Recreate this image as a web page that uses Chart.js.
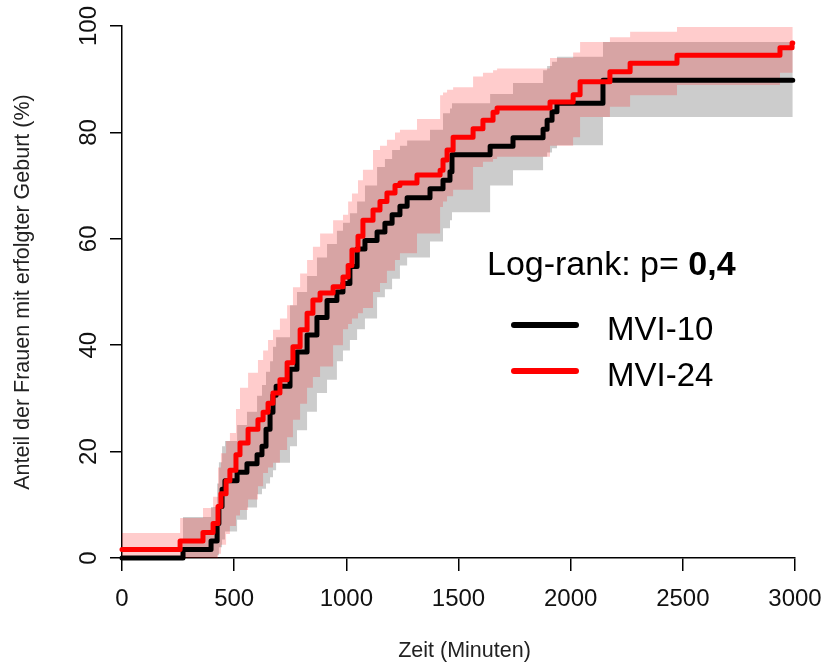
<!DOCTYPE html>
<html>
<head>
<meta charset="utf-8">
<script src="https://cdn.jsdelivr.net/npm/chart.js@4.4.1/dist/chart.umd.min.js"></script>
<style>
  html, body { margin: 0; padding: 0; background: #fff; }
  canvas { display: block; }
</style>
</head>
<body>
<canvas id="km-chart" width="822" height="664"></canvas>
<script>
// Achsen
const xTicks = [0, 500, 1000, 1500, 2000, 2500, 3000];
const yTicks = [0, 20, 40, 60, 80, 100];
const groups = ['MVI-10', 'MVI-24'];
const logrankP = '0,4';

// MVI-10 (schwarz): Zeit, Schaetzer, untere / obere Grenze (%)
const time10 = [0, 272, 397, 424, 432, 446, 459, 513, 557, 602, 624, 642, 660, 673, 687, 749, 780, 825, 869, 914, 958, 985, 1016, 1048, 1083, 1137, 1172, 1204, 1239, 1271, 1373, 1431, 1462, 1471, 1641, 1743, 1877, 1895, 1917, 1939, 2144, 2990];
const est10 = [0, 1.6, 3.2, 6.5, 9.7, 12.9, 14.5, 16.1, 17.7, 19.4, 21, 24.2, 27.4, 30.6, 32.3, 35.5, 38.7, 41.9, 45.2, 48.4, 50, 51.6, 54.8, 58.1, 59.7, 61.3, 62.9, 64.5, 66.1, 67.7, 69.4, 71, 72.6, 75.8, 77.4, 79, 80.6, 82.3, 83.9, 85.5, 89.8, 89.8];
const lower10 = [0, 0, 0, 0.5, 2, 3.5, 5, 7.2, 9.5, 12, 13, 14, 15.2, 16.5, 17.9, 21, 24, 27.5, 31, 33.5, 37, 39, 41, 43, 45, 49, 50.5, 52.5, 55, 56.5, 59.5, 62, 63.5, 65, 70, 72.9, 75.4, 76.2, 77, 77.6, 82.9, 82.9];
const upper10 = [0, 7.7, 9.6, 14, 18, 21, 22, 25, 27.5, 30.5, 32.5, 35, 37, 39.7, 41.5, 47.5, 50, 53, 56.5, 59, 61.5, 63, 64.8, 67, 70, 73.5, 75, 76.7, 77.5, 78.5, 80.5, 83.6, 84.5, 85.5, 87.2, 89.3, 91.7, 92.5, 93.3, 94.2, 97, 97];

// MVI-24 (rot)
const time24 = [0, 259, 361, 406, 428, 441, 464, 481, 508, 526, 562, 606, 629, 651, 673, 704, 736, 762, 794, 825, 851, 883, 941, 985, 1008, 1025, 1052, 1074, 1119, 1150, 1181, 1217, 1239, 1315, 1418, 1431, 1449, 1476, 1565, 1609, 1654, 1672, 1908, 2011, 2042, 2175, 2265, 2474, 2933, 2987, 2990];
const est24 = [1.6, 3.2, 4.8, 6.5, 9.7, 12.1, 14.5, 16.5, 19.4, 21.6, 24.2, 26, 27.4, 29.1, 31, 33.5, 36.7, 39.7, 42.9, 46, 48.5, 49.8, 51, 52.8, 55, 57.9, 60.5, 63.5, 65.4, 67, 68.6, 70, 70.5, 72, 72.9, 74.8, 76.7, 79.1, 80.7, 82.3, 83.8, 84.6, 85.7, 87.1, 89.5, 91.4, 93, 94.5, 95.9, 96.8, 96.8];
const lower24 = [0, 0, 0, 0, 0.8, 2.5, 4.5, 6, 8, 9, 11, 13.5, 16, 17, 17.9, 20.3, 22.7, 26, 29, 32, 34, 36, 40, 43, 44, 45, 46, 47, 50, 51.7, 54, 56, 57.3, 61, 66, 67, 68, 69.2, 73.5, 74.5, 75, 75.4, 77.5, 79.1, 82.9, 84.8, 87, 88.9, 91.2, 91.2, 91.2];
const upper24 = [4.7, 7.5, 9.4, 11.5, 17, 19.7, 22, 23.5, 28, 32, 34.8, 37.2, 39, 41, 42.9, 45, 47.5, 50.9, 53.5, 56, 58.5, 61, 63.5, 64.5, 67, 68.5, 71, 73, 76.7, 77.5, 78.6, 80, 80.5, 82.5, 87, 87.5, 88, 88.5, 90.5, 91.2, 91.7, 92, 94, 95, 97, 97.9, 98.9, 99.8, 99.8, 99.8, 99.8];

const lineColors = ['#000000', '#ff0000'];
const bandColors = ['rgba(0,0,0,0.2)', 'rgba(255,0,0,0.2)'];
const FONT = '"Liberation Sans", Arial, sans-serif';

function pts(times, vals) {
    return times.map((t, i) => ({ x: t, y: vals[i] }));
}

function lineSet(label, times, vals, color) {
    return {
        label: label,
        data: pts(times, vals),
        stepped: true,
        borderColor: color,
        borderWidth: 5,
        borderCapStyle: 'round',
        borderJoinStyle: 'round',
        pointRadius: 0,
        fill: false,
        clip: false
    };
}

function bandSet(times, vals, color, fill) {
    return {
        data: pts(times, vals),
        stepped: true,
        borderColor: 'rgba(0,0,0,0)',
        borderWidth: 0,
        pointRadius: 0,
        backgroundColor: color,
        fill: fill
    };
}

// R-artige Beschriftung: gedrehte y-Ticks, Achsentitel, Legende
const rText = {
    id: 'rText',
    afterDraw(chart) {
        const ctx = chart.ctx;
        const xs = chart.scales.x, ys = chart.scales.y;
        ctx.save();
        ctx.fillStyle = '#111';
        ctx.textAlign = 'center';
        ctx.textBaseline = 'alphabetic';

        ctx.font = '24px ' + FONT;
        yTicks.forEach(v => {
            ctx.save();
            ctx.translate(96, ys.getPixelForValue(v));
            ctx.rotate(-Math.PI / 2);
            ctx.fillText(String(v), 0, 0);
            ctx.restore();
        });

        ctx.font = '21.5px ' + FONT;
        ctx.fillStyle = '#222';
        ctx.save();
        ctx.translate(29, (ys.top + ys.bottom) / 2);
        ctx.rotate(-Math.PI / 2);
        ctx.fillText('Anteil der Frauen mit erfolgter Geburt (%)', 0, 0);
        ctx.restore();
        ctx.fillText('Zeit (Minuten)', (xs.left + xs.right) / 2 + 6, 657);

        // Legende
        ctx.fillStyle = '#000';
        ctx.textAlign = 'left';
        ctx.font = '34px ' + FONT;
        const head = 'Log-rank: p= ';
        ctx.fillText(head, 487, 275);
        const w = ctx.measureText(head).width;
        ctx.font = 'bold 34px ' + FONT;
        ctx.fillText(logrankP, 487 + w, 275);

        ctx.font = '33px ' + FONT;
        groups.forEach((g, i) => {
            const ly = 325 + i * 46;
            ctx.strokeStyle = lineColors[i];
            ctx.lineWidth = 6;
            ctx.lineCap = 'round';
            ctx.beginPath();
            ctx.moveTo(514, ly);
            ctx.lineTo(576, ly);
            ctx.stroke();
            ctx.fillText(g, 607, ly + 15);
        });
        ctx.restore();
    }
};

new Chart(document.getElementById('km-chart').getContext('2d'), {
    type: 'line',
    data: {
        datasets: [
            lineSet(groups[1], time24, est24, lineColors[1]),
            lineSet(groups[0], time10, est10, lineColors[0]),
            bandSet(time24, upper24, bandColors[1], '+1'),
            bandSet(time24, lower24, bandColors[1], false),
            bandSet(time10, upper10, bandColors[0], '+1'),
            bandSet(time10, lower10, bandColors[0], false)
        ]
    },
    options: {
        responsive: false,
        animation: false,
        devicePixelRatio: 1,
        layout: { padding: { top: 26, right: 27, left: 0, bottom: 0 } },
        plugins: {
            legend: { display: false },
            tooltip: { enabled: false }
        },
        scales: {
            x: {
                type: 'linear',
                min: 0,
                max: 3000,
                afterBuildTicks: (scale) => { scale.ticks = xTicks.map(v => ({ value: v })); },
                afterFit: (scale) => {
                    scale.height = 106;
                    scale.paddingLeft = 0;
                    scale.paddingRight = 0;
                },
                ticks: {
                    autoSkip: false,
                    maxRotation: 0,
                    color: '#111',
                    padding: 14,
                    font: { family: FONT, size: 24 },
                    callback: (v) => String(v)
                },
                grid: { drawOnChartArea: false, tickLength: 13, color: '#000', lineWidth: 1.5 },
                border: { display: true, color: '#000', width: 1.5 }
            },
            y: {
                type: 'linear',
                min: 0,
                max: 100,
                afterBuildTicks: (scale) => { scale.ticks = yTicks.map(v => ({ value: v })); },
                afterFit: (scale) => { scale.width = 122; },
                ticks: { display: false },
                grid: { drawOnChartArea: false, tickLength: 12, color: '#000', lineWidth: 1.5 },
                border: { display: true, color: '#000', width: 1.5 }
            }
        }
    },
    plugins: [rText]
});
</script>
</body>
</html>
